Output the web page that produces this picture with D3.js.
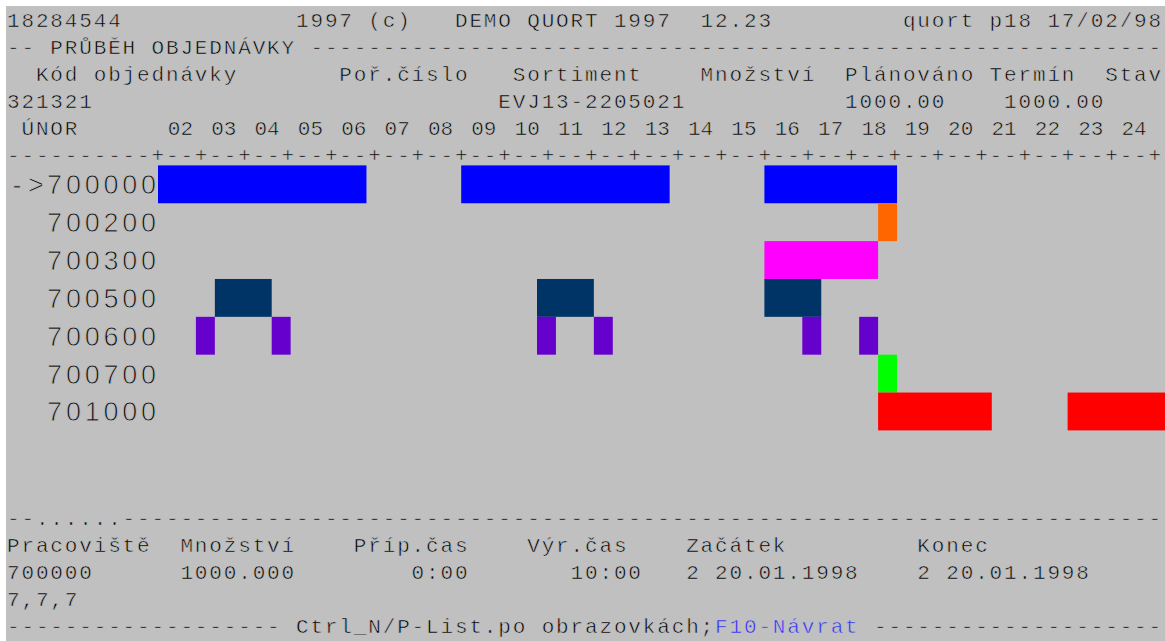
<!DOCTYPE html>
<html>
<head>
<meta charset="utf-8">
<script src="https://cdnjs.cloudflare.com/ajax/libs/d3/7.8.5/d3.min.js"></script>
<style>
  body { margin: 0; background: #fff; }
  svg { display: block; }
  text { white-space: pre; }
</style>
</head>
<body>
<div id="chart"></div>
<script>
// header / footer text of the terminal screen: [column, text]
const titleRow = [[0, '18284544'], [20, '1997 (c)'], [31, 'DEMO QUORT 1997  12.23'], [62, 'quort p18 17/02/98']]
const sectionTitle = '-- PRŮBĚH OBJEDNÁVKY '
const orderHeads = [[2, 'Kód objednávky'], [23, 'Poř.číslo'], [35, 'Sortiment'], [48, 'Množství'], [58, 'Plánováno'], [68, 'Termín'], [76, 'Stav']]
const orderValues = [[0, '321321'], [34, 'EVJ13-2205021'], [58, '1000.00'], [69, '1000.00']]
const monthLabel = 'ÚNOR'
const days = ['02','03','04','05','06','07','08','09','10','11','12','13','14','15','16','17','18','19','20','21','22','23','24']

const detailHeads = [[0, 'Pracoviště'], [12, 'Množství'], [24, 'Příp.čas'], [36, 'Výr.čas'], [47, 'Začátek'], [63, 'Konec']]
const detailValues = [[0, '700000'], [12, '1000.000'], [28, '0:00'], [39, '10:00'], [47, '2 20.01.1998'], [63, '2 20.01.1998']]
const detailExtra = [[0, '7,7,7']]
const footerKeys = 'Ctrl_N/P-List.po obrazovkách;'
const footerExit = 'F10-Návrat'

// gantt rows and bars (start / end in time slots)
const workplaces = ['700000', '700200', '700300', '700500', '700600', '700700', '701000']
const selected = '700000'
const wpColors = ['#0000ff', '#ff6600', '#ff00ff', '#003366', '#6600cc', '#00ff00', '#ff0000']
const tasks = [
  ['700000', 0, 11], ['700000', 16, 27], ['700000', 32, 39],
  ['700200', 38, 39],
  ['700300', 32, 38],
  ['700500', 3, 6], ['700500', 20, 23], ['700500', 32, 35],
  ['700600', 2, 3], ['700600', 6, 7], ['700600', 20, 21], ['700600', 23, 24], ['700600', 34, 35], ['700600', 37, 38],
  ['700700', 38, 39],
  ['701000', 38, 44], ['701000', 48, 54]
]

const W = 1165, H = 641
const bg = '#c0c0c0'
const x0 = 7, cw = 14.45          // terminal cell grid
const top0 = 27, lh = 27          // top text baselines
const bot0 = 525                  // bottom text baselines
const termFont = '"Courier New", Courier, "Nimbus Mono PS", FreeMono, "Liberation Mono", monospace'

let svg = d3.select('#chart')
  .append('svg')
  .attr('width', W)
  .attr('height', H)

svg.append('rect')
  .attr('x', 6).attr('y', 6)
  .attr('width', W - 6).attr('height', H - 6)
  .style('fill', bg)

// thin strokes in background colour make the glyphs lighter, like the old screen font
let term = svg.append('g')
  .style('font-family', termFont)
  .style('font-size', '21px')
  .style('fill', '#000')
  .style('stroke', bg)
  .style('stroke-width', '0.6px')

// one character per terminal cell
function cells(col, y, str, color) {
  let chars = Array.from(str)
  term.append('text')
    .attr('x', chars.map((c, i) => (x0 + (col + i) * cw).toFixed(2)).join(' '))
    .attr('y', y)
    .style('fill', color || '#000')
    .text(str)
}

function dashes(from, to) {
  return '-'.repeat(to - from + 1)
}

// top block
titleRow.forEach(d => cells(d[0], top0, d[1]))
cells(0, top0 + lh, sectionTitle + dashes(21, 79))
orderHeads.forEach(d => cells(d[0], top0 + 2 * lh, d[1]))
orderValues.forEach(d => cells(d[0], top0 + 3 * lh, d[1]))
cells(1, top0 + 4 * lh, monthLabel)

/* Day scale: one band per day, ticks drawn as "+" at band edges */
let dayStart = x0 + 10.5 * cw
let xDay = d3.scaleBand()
  .domain(days)
  .range([dayStart, dayStart + days.length * 3 * cw])

term.selectAll('text.day')
  .data(days)
  .enter()
  .append('text')
  .attr('class', 'day')
  .attr('x', d => xDay(d) + xDay.bandwidth() / 2)
  .attr('y', top0 + 4 * lh)
  .style('text-anchor', 'middle')
  .text(d => d)

let ruler = ''
for (let c = 0; c < 80; c++) ruler += (c >= 10 && (c - 10) % 3 === 0) ? '+' : '-'
cells(0, top0 + 5 * lh, ruler)

/* Gantt */
let xSlot = d3.scaleLinear()
  .domain([0, 1])
  .range([158, 158 + 18.95])

let yRow = d3.scaleBand()
  .domain(workplaces)
  .range([165.4, 430.4])

let color = d3.scaleOrdinal()
  .domain(workplaces)
  .range(wpColors)

svg.append('g')
  .selectAll('rect')
  .data(tasks)
  .enter()
  .append('rect')
  .attr('x', d => xSlot(d[1]))
  .attr('y', d => yRow(d[0]))
  .attr('width', d => xSlot(d[2]) - xSlot(d[1]))
  .attr('height', yRow.bandwidth())
  .style('fill', d => color(d[0]))

// row labels, right aligned on the chart start, 8 wide cells
let lw = 18.8
svg.append('g')
  .style('font-family', '"Liberation Sans", Arial, sans-serif')
  .style('font-size', '27px')
  .style('fill', '#111')
  .style('stroke', bg)
  .style('stroke-width', '0.9px')
  .selectAll('text')
  .data(workplaces)
  .enter()
  .append('text')
  .attr('x', d => {
    let s = (d === selected ? '->' : '') + d
    return Array.from(s, (c, i) => (158 - (s.length - i - 0.5) * lw).toFixed(2)).join(' ')
  })
  .attr('y', d => yRow(d) + yRow.bandwidth() / 2 + 10)
  .style('text-anchor', 'middle')
  .text(d => (d === selected ? '->' : '') + d)

// bottom block
cells(0, bot0, '--......' + dashes(8, 79))
detailHeads.forEach(d => cells(d[0], bot0 + lh, d[1]))
detailValues.forEach(d => cells(d[0], bot0 + 2 * lh, d[1]))
detailExtra.forEach(d => cells(d[0], bot0 + 3 * lh, d[1]))
cells(0, bot0 + 4 * lh, dashes(0, 18))
cells(20, bot0 + 4 * lh, footerKeys)
cells(49, bot0 + 4 * lh, footerExit, '#2a2aff')
cells(60, bot0 + 4 * lh, dashes(60, 79))
</script>
</body>
</html>
